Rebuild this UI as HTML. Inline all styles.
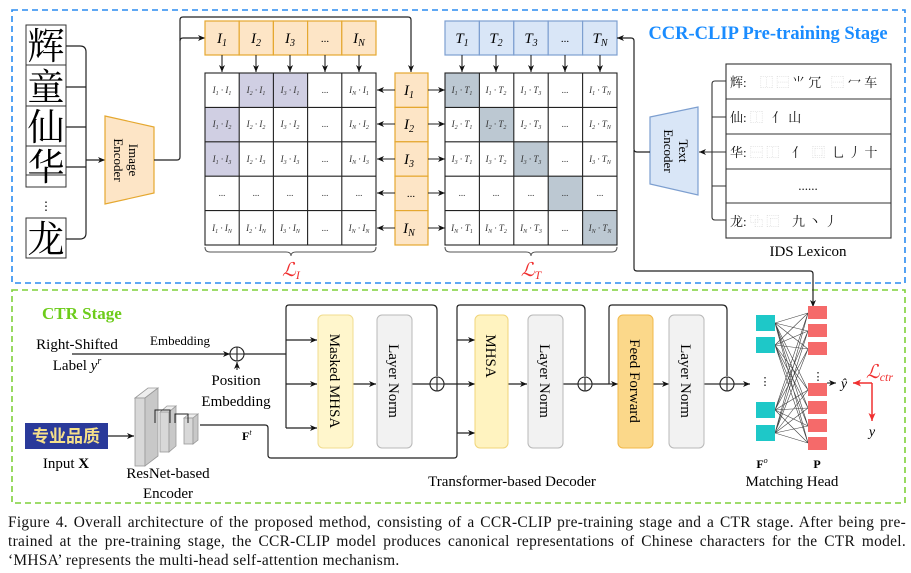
<!DOCTYPE html>
<html><head><meta charset="utf-8"><style>
body{margin:0;background:#fff;width:911px;height:573px;overflow:hidden;position:relative}
svg{display:block}
.s{font-family:"Liberation Serif","Noto Serif CJK SC",serif}
.m{font-family:"Liberation Serif",serif;font-style:italic;font-size:9px;fill:#333}
.cap{position:absolute;left:8px;width:898px;font-family:"Liberation Serif",serif;font-size:15.4px;letter-spacing:0.3px;color:#111;white-space:nowrap;line-height:18px}
.j{text-align:justify;text-align-last:justify}
</style></head><body>
<svg width="911" height="573" viewBox="0 0 911 573" xmlns="http://www.w3.org/2000/svg">
<defs>
<marker id="a" markerWidth="8" markerHeight="8" refX="7" refY="4" orient="auto" markerUnits="userSpaceOnUse"><path d="M0,1 L7,4 L0,7 L2,4z" fill="#111"/></marker>
<marker id="r" markerWidth="9" markerHeight="9" refX="8" refY="4.5" orient="auto" markerUnits="userSpaceOnUse"><path d="M0,1 L8,4.5 L0,8 L2,4.5z" fill="#f03030"/></marker>
</defs>
<rect x="12" y="10" width="893" height="273" fill="none" stroke="#2a8cf0" stroke-width="1.6" stroke-dasharray="6,4"/>
<rect x="12" y="290" width="893" height="213" fill="none" stroke="#7ed13a" stroke-width="1.6" stroke-dasharray="6,4"/>
<text x="768" y="39" class="s" font-size="18.5" font-weight="bold" fill="#1a8cff" text-anchor="middle">CCR-CLIP Pre-training Stage</text>
<text x="42" y="319" class="s" font-size="17" font-weight="bold" fill="#6dcc1b">CTR Stage</text>

<g fill="none" stroke="#333" stroke-width="1">
<rect x="26" y="25" width="40" height="40"/><rect x="26" y="65" width="40" height="41"/><rect x="26" y="106" width="40" height="40"/><rect x="26" y="146" width="40" height="41"/><line x1="26" y1="175" x2="66" y2="175"/><rect x="26" y="218" width="40" height="40"/>
</g>
<g class="s" font-size="37" text-anchor="middle" fill="#000">
<text x="46" y="59">辉</text><text x="46" y="100">童</text><text x="46" y="140">仙</text><text x="46" y="180">华</text><text x="46" y="252">龙</text>
</g>
<text x="46" y="210" class="s" font-size="12" text-anchor="middle">⋮</text>
<g fill="none" stroke="#222" stroke-width="1.2">
<path d="M66,46 H80 Q86,46 86,52 V233 Q86,239 80,239 H66"/>
<path d="M66,87 H86 M66,127 H86 M66,167 H86"/>
<line x1="86" y1="160" x2="105" y2="160" marker-end="url(#a)"/>
</g>
<polygon points="105,116 154,127 154,193 105,204" fill="#fde5c6" stroke="#e5a830" stroke-width="1.2"/>
<text transform="translate(126,160) rotate(90)" class="s" font-size="13" text-anchor="middle"><tspan x="0" dy="-3">Image</tspan><tspan x="0" dy="15">Encoder</tspan></text>
<path d="M154,160 H177 Q180,160 180,157 V41 Q180,38 183,38 H205" fill="none" stroke="#222" stroke-width="1.2" marker-end="url(#a)"/>
<path d="M180,41 V20 Q180,17 183,17 H408 Q411,17 411,20 V72" fill="none" stroke="#222" stroke-width="1.2" marker-end="url(#a)"/>

<g stroke="#e5a830" stroke-width="1.2" fill="#fde5c6">
<rect x="205" y="21" width="34.2" height="34"/><rect x="239.2" y="21" width="34.2" height="34"/><rect x="273.4" y="21" width="34.2" height="34"/><rect x="307.6" y="21" width="34.2" height="34"/><rect x="341.8" y="21" width="34.2" height="34"/>
</g>
<g class="s" font-style="italic" font-size="15" text-anchor="middle">
<text x="222" y="43">I<tspan font-size="10" dy="3">1</tspan></text><text x="256" y="43">I<tspan font-size="10" dy="3">2</tspan></text><text x="290" y="43">I<tspan font-size="10" dy="3">3</tspan></text><text x="325" y="42" font-style="normal" font-size="11">...</text><text x="359" y="43">I<tspan font-size="10" dy="3">N</tspan></text>
</g>
<g stroke="#7d9fd0" stroke-width="1.2" fill="#d9e6f7">
<rect x="445" y="21" width="34.4" height="34"/><rect x="479.4" y="21" width="34.4" height="34"/><rect x="513.8" y="21" width="34.4" height="34"/><rect x="548.2" y="21" width="34.4" height="34"/><rect x="582.6" y="21" width="34.4" height="34"/>
</g>
<g class="s" font-style="italic" font-size="15" text-anchor="middle">
<text x="462" y="43">T<tspan font-size="10" dy="3">1</tspan></text><text x="496" y="43">T<tspan font-size="10" dy="3">2</tspan></text><text x="531" y="43">T<tspan font-size="10" dy="3">3</tspan></text><text x="565" y="42" font-style="normal" font-size="11">...</text><text x="600" y="43">T<tspan font-size="10" dy="3">N</tspan></text>
</g>
<g stroke="#222" stroke-width="1.1" marker-end="url(#a)">
<line x1="222" y1="55" x2="222" y2="72"/><line x1="256" y1="55" x2="256" y2="72"/><line x1="290" y1="55" x2="290" y2="72"/><line x1="325" y1="55" x2="325" y2="72"/><line x1="359" y1="55" x2="359" y2="72"/>
<line x1="462" y1="55" x2="462" y2="72"/><line x1="496" y1="55" x2="496" y2="72"/><line x1="531" y1="55" x2="531" y2="72"/><line x1="565" y1="55" x2="565" y2="72"/><line x1="600" y1="55" x2="600" y2="72"/>
</g>
<rect x="239.2" y="73" width="68.4" height="34.4" fill="#d0cfe3"/>
<rect x="205" y="107.4" width="34.2" height="68.8" fill="#d0cfe3"/>
<g fill="none" stroke="#222" stroke-width="1.1">
<rect x="205" y="73" width="171" height="172"/>
<path d="M239.2,73V245M273.4,73V245M307.6,73V245M341.8,73V245M205,107.4H376M205,141.8H376M205,176.2H376M205,210.6H376"/>
</g>
<g fill="#bcc8d2"><rect x="445" y="73" width="34.4" height="34.4"/><rect x="479.4" y="107.4" width="34.4" height="34.4"/><rect x="513.8" y="141.8" width="34.4" height="34.4"/><rect x="548.2" y="176.2" width="34.4" height="34.4"/><rect x="582.6" y="210.6" width="34.4" height="34.4"/></g>
<g fill="none" stroke="#222" stroke-width="1.1">
<rect x="445" y="73" width="172" height="172"/>
<path d="M479.4,73V245M513.8,73V245M548.2,73V245M582.6,73V245M445,107.4H617M445,141.8H617M445,176.2H617M445,210.6H617"/>
</g>
<g stroke="#e5a830" stroke-width="1.2" fill="#fde5c6">
<rect x="395" y="73" width="33" height="34.4"/><rect x="395" y="107.4" width="33" height="34.4"/><rect x="395" y="141.8" width="33" height="34.4"/><rect x="395" y="176.2" width="33" height="34.4"/><rect x="395" y="210.6" width="33" height="34.4"/>
</g>
<g class="s" font-style="italic" font-size="15" text-anchor="middle">
<text x="409" y="95">I<tspan font-size="10" dy="3">1</tspan></text><text x="409" y="129">I<tspan font-size="10" dy="3">2</tspan></text><text x="409" y="164">I<tspan font-size="10" dy="3">3</tspan></text><text x="411" y="197" font-style="normal" font-size="11">...</text><text x="409" y="233">I<tspan font-size="10" dy="3">N</tspan></text>
</g>
<g stroke="#222" stroke-width="1.1" marker-end="url(#a)">
<line x1="395" y1="90" x2="377" y2="90"/><line x1="395" y1="124" x2="377" y2="124"/><line x1="395" y1="159" x2="377" y2="159"/><line x1="395" y1="193" x2="377" y2="193"/><line x1="395" y1="228" x2="377" y2="228"/>
<line x1="428" y1="90" x2="445" y2="90"/><line x1="428" y1="124" x2="445" y2="124"/><line x1="428" y1="159" x2="445" y2="159"/><line x1="428" y1="193" x2="445" y2="193"/><line x1="428" y1="228" x2="445" y2="228"/>
</g>
<g class="m" text-anchor="middle">
<text x="222" y="93">I<tspan font-size="6" dy="2">1</tspan><tspan dy="-2"> · </tspan>I<tspan font-size="6" dy="2">1</tspan></text>
<text x="256" y="93">I<tspan font-size="6" dy="2">2</tspan><tspan dy="-2"> · </tspan>I<tspan font-size="6" dy="2">1</tspan></text>
<text x="290" y="93">I<tspan font-size="6" dy="2">3</tspan><tspan dy="-2"> · </tspan>I<tspan font-size="6" dy="2">1</tspan></text>
<text x="325" y="93" font-style="normal">...</text>
<text x="359" y="93">I<tspan font-size="6" dy="2">N</tspan><tspan dy="-2"> · </tspan>I<tspan font-size="6" dy="2">1</tspan></text>
<text x="222" y="127">I<tspan font-size="6" dy="2">1</tspan><tspan dy="-2"> · </tspan>I<tspan font-size="6" dy="2">2</tspan></text>
<text x="256" y="127">I<tspan font-size="6" dy="2">2</tspan><tspan dy="-2"> · </tspan>I<tspan font-size="6" dy="2">2</tspan></text>
<text x="290" y="127">I<tspan font-size="6" dy="2">3</tspan><tspan dy="-2"> · </tspan>I<tspan font-size="6" dy="2">2</tspan></text>
<text x="325" y="127" font-style="normal">...</text>
<text x="359" y="127">I<tspan font-size="6" dy="2">N</tspan><tspan dy="-2"> · </tspan>I<tspan font-size="6" dy="2">2</tspan></text>
<text x="222" y="162">I<tspan font-size="6" dy="2">1</tspan><tspan dy="-2"> · </tspan>I<tspan font-size="6" dy="2">3</tspan></text>
<text x="256" y="162">I<tspan font-size="6" dy="2">2</tspan><tspan dy="-2"> · </tspan>I<tspan font-size="6" dy="2">3</tspan></text>
<text x="290" y="162">I<tspan font-size="6" dy="2">3</tspan><tspan dy="-2"> · </tspan>I<tspan font-size="6" dy="2">3</tspan></text>
<text x="325" y="162" font-style="normal">...</text>
<text x="359" y="162">I<tspan font-size="6" dy="2">N</tspan><tspan dy="-2"> · </tspan>I<tspan font-size="6" dy="2">3</tspan></text>
<text x="222" y="196" font-style="normal">...</text><text x="256" y="196" font-style="normal">...</text><text x="290" y="196" font-style="normal">...</text><text x="325" y="196" font-style="normal">...</text><text x="359" y="196" font-style="normal">...</text>
<text x="222" y="231">I<tspan font-size="6" dy="2">1</tspan><tspan dy="-2"> · </tspan>I<tspan font-size="6" dy="2">N</tspan></text>
<text x="256" y="231">I<tspan font-size="6" dy="2">2</tspan><tspan dy="-2"> · </tspan>I<tspan font-size="6" dy="2">N</tspan></text>
<text x="290" y="231">I<tspan font-size="6" dy="2">3</tspan><tspan dy="-2"> · </tspan>I<tspan font-size="6" dy="2">N</tspan></text>
<text x="325" y="231" font-style="normal">...</text>
<text x="359" y="231">I<tspan font-size="6" dy="2">N</tspan><tspan dy="-2"> · </tspan>I<tspan font-size="6" dy="2">N</tspan></text>
</g>
<g class="m" text-anchor="middle">
<text x="462" y="93">I<tspan font-size="6" dy="2">1</tspan><tspan dy="-2"> · </tspan>T<tspan font-size="6" dy="2">1</tspan></text>
<text x="496" y="93">I<tspan font-size="6" dy="2">1</tspan><tspan dy="-2"> · </tspan>T<tspan font-size="6" dy="2">2</tspan></text>
<text x="531" y="93">I<tspan font-size="6" dy="2">1</tspan><tspan dy="-2"> · </tspan>T<tspan font-size="6" dy="2">3</tspan></text>
<text x="565" y="93" font-style="normal">...</text>
<text x="600" y="93">I<tspan font-size="6" dy="2">1</tspan><tspan dy="-2"> · </tspan>T<tspan font-size="6" dy="2">N</tspan></text>
<text x="462" y="127">I<tspan font-size="6" dy="2">2</tspan><tspan dy="-2"> · </tspan>T<tspan font-size="6" dy="2">1</tspan></text>
<text x="496" y="127">I<tspan font-size="6" dy="2">2</tspan><tspan dy="-2"> · </tspan>T<tspan font-size="6" dy="2">2</tspan></text>
<text x="531" y="127">I<tspan font-size="6" dy="2">2</tspan><tspan dy="-2"> · </tspan>T<tspan font-size="6" dy="2">3</tspan></text>
<text x="565" y="127" font-style="normal">...</text>
<text x="600" y="127">I<tspan font-size="6" dy="2">2</tspan><tspan dy="-2"> · </tspan>T<tspan font-size="6" dy="2">N</tspan></text>
<text x="462" y="162">I<tspan font-size="6" dy="2">3</tspan><tspan dy="-2"> · </tspan>T<tspan font-size="6" dy="2">1</tspan></text>
<text x="496" y="162">I<tspan font-size="6" dy="2">3</tspan><tspan dy="-2"> · </tspan>T<tspan font-size="6" dy="2">2</tspan></text>
<text x="531" y="162">I<tspan font-size="6" dy="2">3</tspan><tspan dy="-2"> · </tspan>T<tspan font-size="6" dy="2">3</tspan></text>
<text x="565" y="162" font-style="normal">...</text>
<text x="600" y="162">I<tspan font-size="6" dy="2">3</tspan><tspan dy="-2"> · </tspan>T<tspan font-size="6" dy="2">N</tspan></text>
<text x="462" y="196" font-style="normal">...</text><text x="496" y="196" font-style="normal">...</text><text x="531" y="196" font-style="normal">...</text><text x="565" y="196" font-style="normal">...</text><text x="600" y="196" font-style="normal">...</text>
<text x="462" y="231">I<tspan font-size="6" dy="2">N</tspan><tspan dy="-2"> · </tspan>T<tspan font-size="6" dy="2">1</tspan></text>
<text x="496" y="231">I<tspan font-size="6" dy="2">N</tspan><tspan dy="-2"> · </tspan>T<tspan font-size="6" dy="2">2</tspan></text>
<text x="531" y="231">I<tspan font-size="6" dy="2">N</tspan><tspan dy="-2"> · </tspan>T<tspan font-size="6" dy="2">3</tspan></text>
<text x="565" y="231" font-style="normal">...</text>
<text x="600" y="231">I<tspan font-size="6" dy="2">N</tspan><tspan dy="-2"> · </tspan>T<tspan font-size="6" dy="2">N</tspan></text>
</g>
<g fill="none" stroke="#555" stroke-width="1">
<path d="M205,247 Q205,252 210,252 H286 Q291,252 291,256 Q291,252 296,252 H371 Q376,252 376,247"/>
<path d="M445,247 Q445,252 450,252 H526 Q531,252 531,256 Q531,252 536,252 H612 Q617,252 617,247"/>
</g>
<text x="291" y="276" class="s" font-style="italic" font-size="19" fill="#f03030" text-anchor="middle">ℒ<tspan font-size="12" dy="3">I</tspan></text>
<text x="531" y="276" class="s" font-style="italic" font-size="19" fill="#f03030" text-anchor="middle">ℒ<tspan font-size="12" dy="3">T</tspan></text>

<polygon points="650,117 698,107 698,195 650,184" fill="#d9e6f7" stroke="#7d9fd0" stroke-width="1.2"/>
<text transform="translate(676,151) rotate(90)" class="s" font-size="13" text-anchor="middle"><tspan x="0" dy="-3">Text</tspan><tspan x="0" dy="15">Encoder</tspan></text>
<path d="M650,152 H637 Q634,152 634,149 V41 Q634,38 631,38 H617" fill="none" stroke="#222" stroke-width="1.2" marker-end="url(#a)"/>
<path d="M634,150 V268 Q634,271 637,271 H810 Q813,271 813,274 V307" fill="none" stroke="#222" stroke-width="1.2" marker-end="url(#a)"/>
<g fill="none" stroke="#333" stroke-width="1.1">
<rect x="726" y="64" width="165" height="174"/>
<path d="M726,99H891M726,134H891M726,169H891M726,203H891"/>
<path d="M726,81 H715 Q712,81 712,84 V217 Q712,220 715,220 H726 M712,117H726 M712,186H726"/>
<line x1="726" y1="152" x2="699" y2="152" marker-end="url(#a)"/>
</g>
<g class="s" font-size="13" fill="#111">
<text x="730" y="87">辉:</text><text x="760" y="87" fill="#ccc">⿰ ⿱</text><text x="792" y="87">⺌ 冗</text><text x="831" y="87" fill="#ccc">⿱</text><text x="848" y="87">冖 车</text>
<text x="730" y="122">仙:</text><text x="750" y="122" fill="#ccc">⿰</text><text x="772" y="122">亻 山</text>
<text x="730" y="157">华:</text><text x="750" y="157" fill="#ccc">⿱ ⿰</text><text x="792" y="157">亻</text><text x="812" y="157" fill="#ccc">⿴</text><text x="832" y="157">乚 丿 十</text>
<text x="808" y="190" text-anchor="middle">......</text>
<text x="730" y="226">龙:</text><text x="750" y="226" fill="#ccc">⿻ ⿸</text><text x="792" y="226">九 丶 丿</text>
</g>
<text x="808" y="256" class="s" font-size="15" text-anchor="middle">IDS Lexicon</text>

<text x="77" y="349" class="s" font-size="15" text-anchor="middle">Right-Shifted</text>
<text x="77" y="370" class="s" font-size="15" text-anchor="middle">Label <tspan font-style="italic">y<tspan font-size="10" dy="-6">r</tspan></tspan></text>
<text x="180" y="345" class="s" font-size="13" text-anchor="middle">Embedding</text>
<line x1="72" y1="354" x2="230" y2="354" stroke="#222" stroke-width="1.2" marker-end="url(#a)"/>
<g fill="none" stroke="#222" stroke-width="1.1">
<circle cx="237" cy="354" r="7"/><path d="M230,354H244M237,347V361"/>
<circle cx="437" cy="384" r="7"/><path d="M430,384H444M437,377V391"/>
<circle cx="585" cy="384" r="7"/><path d="M578,384H592M585,377V391"/>
<circle cx="727" cy="384" r="7"/><path d="M720,384H734M727,377V391"/>
</g>
<line x1="237" y1="370" x2="237" y2="362" stroke="#222" stroke-width="1.1" marker-end="url(#a)"/>
<text x="236" y="385" class="s" font-size="15" text-anchor="middle">Position</text>
<text x="236" y="406" class="s" font-size="15" text-anchor="middle">Embedding</text>
<g fill="none" stroke="#222" stroke-width="1.2">
<path d="M244,354 H286 M286,428 V308 Q286,305 289,305 H432 Q437,305 437,310 V376"/>
<path d="M412,384 H430 M444,384 H457 M457,433 V308 Q457,305 460,305 H580 Q585,305 585,310 V376"/>
<path d="M563,384 H578 M592,384 H609 M609,384 V308 Q609,305 612,305 H722 Q727,305 727,310 V376"/>
<path d="M704,384 H720"/>
<path d="M200,425 H265 Q268,425 268,428 V455 Q268,458 271,458 H454 Q457,458 457,455 V433"/>
</g>
<g stroke="#222" stroke-width="1.2" marker-end="url(#a)">
<line x1="286" y1="340" x2="317" y2="340"/><line x1="286" y1="384" x2="317" y2="384"/><line x1="286" y1="428" x2="317" y2="428"/>
<line x1="353" y1="384" x2="376" y2="384"/>
<line x1="457" y1="340" x2="475" y2="340"/><line x1="457" y1="384" x2="475" y2="384"/><line x1="457" y1="433" x2="475" y2="433"/>
<line x1="508" y1="384" x2="527" y2="384"/>
<line x1="609" y1="384" x2="618" y2="384"/>
<line x1="653" y1="384" x2="669" y2="384"/>
<line x1="734" y1="384" x2="750" y2="384"/>
</g>
<rect x="318" y="315" width="35" height="133" rx="5" fill="#fff6cc" stroke="#f0dc8f"/>
<rect x="377" y="315" width="35" height="133" rx="5" fill="#f2f2f2" stroke="#b8b8b8"/>
<rect x="475" y="315" width="33" height="133" rx="5" fill="#fff3c0" stroke="#f0d57a"/>
<rect x="528" y="315" width="35" height="133" rx="5" fill="#f2f2f2" stroke="#b8b8b8"/>
<rect x="618" y="315" width="35" height="133" rx="5" fill="#fbd88a" stroke="#f0b84a"/>
<rect x="669" y="315" width="35" height="133" rx="5" fill="#f2f2f2" stroke="#b8b8b8"/>
<g class="s" font-size="15" text-anchor="middle">
<text transform="translate(335,381) rotate(90)" dy="5">Masked MHSA</text>
<text transform="translate(394,381) rotate(90)" dy="5">Layer Norm</text>
<text transform="translate(491,356) rotate(90)" dy="5">MHSA</text>
<text transform="translate(545,381) rotate(90)" dy="5">Layer Norm</text>
<text transform="translate(635,381) rotate(90)" dy="5">Feed Forward</text>
<text transform="translate(686,381) rotate(90)" dy="5">Layer Norm</text>
</g>
<rect x="25" y="423" width="83" height="26" fill="#2a3a9a"/>
<text x="66" y="442" font-family="Noto Sans CJK SC,sans-serif" font-weight="bold" font-size="17" fill="#f5e08a" text-anchor="middle">专业品质</text>
<line x1="108" y1="436" x2="134" y2="436" stroke="#222" stroke-width="1.2" marker-end="url(#a)"/>
<text x="66" y="468" class="s" font-size="15" text-anchor="middle">Input <tspan font-weight="bold">X</tspan></text>
<g stroke="#999" stroke-width="0.8">
<polygon points="135,398 148,388 158,388 145,398" fill="#eee"/><rect x="135" y="398" width="10" height="68" fill="#d8d8d8"/><polygon points="145,398 158,388 158,456 145,466" fill="#c8c8c8"/>
<polygon points="160,412 167,406 176,406 169,412" fill="#eee"/><rect x="160" y="412" width="9" height="40" fill="#d8d8d8"/><polygon points="169,412 176,406 176,446 169,452" fill="#c8c8c8"/>
<polygon points="184,418 189,414 198,414 193,418" fill="#eee"/><rect x="184" y="418" width="9" height="26" fill="#d8d8d8"/><polygon points="193,418 198,414 198,440 193,444" fill="#c8c8c8"/>
</g>
<path d="M155,423 V410 H170 V423 M175,423 V414 H188 V423" fill="none" stroke="#222" stroke-width="1"/>
<text x="168" y="478" class="s" font-size="15" text-anchor="middle">ResNet-based</text>
<text x="168" y="498" class="s" font-size="15" text-anchor="middle">Encoder</text>
<text x="242" y="440" class="s" font-size="12" font-weight="bold">F<tspan font-size="8" dy="-5" font-style="italic" font-weight="normal">t</tspan></text>
<text x="512" y="486" class="s" font-size="15" text-anchor="middle">Transformer-based Decoder</text>
<g stroke="#444" stroke-width="0.6">
<path d="M775,323L808,313M775,323L808,331M775,323L808,349M775,323L808,390M775,323L808,408M775,323L808,426M775,323L808,443
M775,345L808,313M775,345L808,331M775,345L808,349M775,345L808,390M775,345L808,408M775,345L808,426M775,345L808,443
M775,410L808,313M775,410L808,331M775,410L808,349M775,410L808,390M775,410L808,408M775,410L808,426M775,410L808,443
M775,433L808,313M775,433L808,331M775,433L808,349M775,433L808,390M775,433L808,408M775,433L808,426M775,433L808,443"/>
</g>
<g fill="#1ec8c8"><rect x="756" y="315" width="19" height="16"/><rect x="756" y="337" width="19" height="16"/><rect x="756" y="402" width="19" height="16"/><rect x="756" y="425" width="19" height="16"/></g>
<text x="765" y="385" class="s" font-size="11" text-anchor="middle">⋮</text>
<g fill="#f56a6a"><rect x="808" y="306" width="19" height="13"/><rect x="808" y="324" width="19" height="13"/><rect x="808" y="342" width="19" height="13"/><rect x="808" y="383" width="19" height="13"/><rect x="808" y="401" width="19" height="13"/><rect x="808" y="419" width="19" height="13"/><rect x="808" y="437" width="19" height="13"/></g>
<text x="818" y="380" class="s" font-size="11" text-anchor="middle">⋮</text>
<line x1="827" y1="383" x2="836" y2="383" stroke="#222" stroke-width="1.1" marker-end="url(#a)"/>
<text x="844" y="388" class="s" font-style="italic" font-size="14" text-anchor="middle">ŷ</text>
<text x="866" y="378" class="s" font-style="italic" font-size="19" fill="#f03030">ℒ<tspan font-size="12" dy="3">ctr</tspan></text>
<path d="M872,383 H853" stroke="#f03030" stroke-width="1.5" marker-end="url(#r)"/>
<path d="M872,383 V421" stroke="#f03030" stroke-width="1.5" marker-end="url(#r)"/>
<text x="872" y="436" class="s" font-style="italic" font-size="14" text-anchor="middle">y</text>
<text x="762" y="468" class="s" font-size="12" font-weight="bold" text-anchor="middle">F<tspan font-size="8" dy="-5" font-style="italic" font-weight="normal">o</tspan></text>
<text x="817" y="468" class="s" font-size="12" font-weight="bold" text-anchor="middle">P</text>
<text x="792" y="486" class="s" font-size="15" text-anchor="middle">Matching Head</text>
</svg>
<div class="cap j" style="top:514px">Figure 4. Overall architecture of the proposed method, consisting of a CCR-CLIP pre-training stage and a CTR stage. After being pre-</div>
<div class="cap j" style="top:533px">trained at the pre-training stage, the CCR-CLIP model produces canonical representations of Chinese characters for the CTR model.</div>
<div class="cap" style="top:552px">‘MHSA’ represents the multi-head self-attention mechanism.</div>
</body></html>
